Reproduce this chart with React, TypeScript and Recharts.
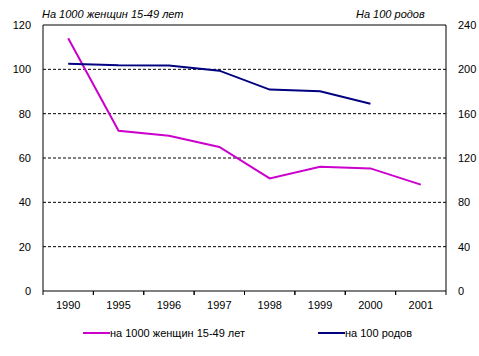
import React from 'react';
import { LineChart, Line, XAxis, YAxis, CartesianGrid, ReferenceLine } from 'recharts';

const years = ['1990', '1995', '1996', '1997', '1998', '1999', '2000', '2001'];
const per1000Women = [114, 72.3, 70, 65, 50.8, 56, 55.3, 48];
const per100Births = [205, 203.7, 203.5, 198.8, 181.7, 180.2, 169, null];

const leftTicks = [0, 20, 40, 60, 80, 100, 120];
const rightTicks = [0, 40, 80, 120, 160, 200, 240];

const MAGENTA = '#cc00cc';
const NAVY = '#000080';
const FONT = '"Liberation Sans", Arial, sans-serif';

const data = years.map((year, i) => ({
  year,
  women: per1000Women[i],
  births: per100Births[i],
}));

const BAND = 403 / years.length;

const XTick = (props: any) => {
  const { x, y, payload } = props;
  return (
    <g>
      <line x1={x - BAND / 2} y1={y - 8} x2={x - BAND / 2} y2={y - 4} stroke="#000" />
      <line x1={x + BAND / 2} y1={y - 8} x2={x + BAND / 2} y2={y - 4} stroke="#000" />
      <text x={x} y={y + 10} textAnchor="middle" fontSize={11} fill="#000" fontFamily={FONT}>
        {payload.value}
      </text>
    </g>
  );
};

const App: React.FC = () => {
  return (
    <div style={{ position: 'absolute', left: 0, top: 0, width: 479, height: 356, background: '#fff', fontFamily: FONT }}>
      <LineChart width={479} height={356} data={data} margin={{ top: 25, right: 3, left: 5, bottom: 40 }}>
        <CartesianGrid
          yAxisId="left"
          vertical={false}
          stroke="#000"
          strokeDasharray="3 2"
          horizontalValues={[20, 40, 60, 80, 100]}
        />
        <XAxis
          dataKey="year"
          scale="band"
          axisLine={{ stroke: '#000' }}
          tickLine={false}
          tick={<XTick />}
          height={25}
          interval={0}
        />
        <YAxis
          yAxisId="left"
          domain={[0, 120]}
          ticks={leftTicks}
          width={38}
          axisLine={{ stroke: '#000' }}
          tickLine={false}
          tick={{ fontSize: 11, fill: '#000', fontFamily: FONT }}
          tickMargin={6}
        />
        <YAxis
          yAxisId="right"
          orientation="right"
          domain={[0, 240]}
          ticks={rightTicks}
          width={30}
          axisLine={{ stroke: '#000' }}
          tickLine={false}
          tick={{ fontSize: 11, fill: '#000', fontFamily: FONT, textAnchor: 'start' }}
          tickMargin={6}
        />
        <ReferenceLine yAxisId="left" y={120} stroke="#000" />
        <Line
          yAxisId="left"
          type="linear"
          dataKey="women"
          stroke={MAGENTA}
          strokeWidth={2}
          dot={false}
          isAnimationActive={false}
        />
        <Line
          yAxisId="right"
          type="linear"
          dataKey="births"
          stroke={NAVY}
          strokeWidth={2}
          dot={false}
          isAnimationActive={false}
        />
      </LineChart>
      <div style={{ position: 'absolute', left: 42, top: 8, fontSize: 11, fontStyle: 'italic' }}>
        На 1000 женщин 15-49 лет
      </div>
      <div style={{ position: 'absolute', left: 356, top: 8, fontSize: 11, fontStyle: 'italic' }}>
        На 100 родов
      </div>
      <div style={{ position: 'absolute', left: 83, top: 327, fontSize: 11, display: 'flex', alignItems: 'center' }}>
        <span style={{ display: 'inline-block', width: 27, height: 2, background: MAGENTA }} />
        <span>на 1000 женщин 15-49 лет</span>
      </div>
      <div style={{ position: 'absolute', left: 318, top: 327, fontSize: 11, display: 'flex', alignItems: 'center' }}>
        <span style={{ display: 'inline-block', width: 27, height: 2, background: NAVY }} />
        <span>на 100 родов</span>
      </div>
    </div>
  );
};

export default App;
